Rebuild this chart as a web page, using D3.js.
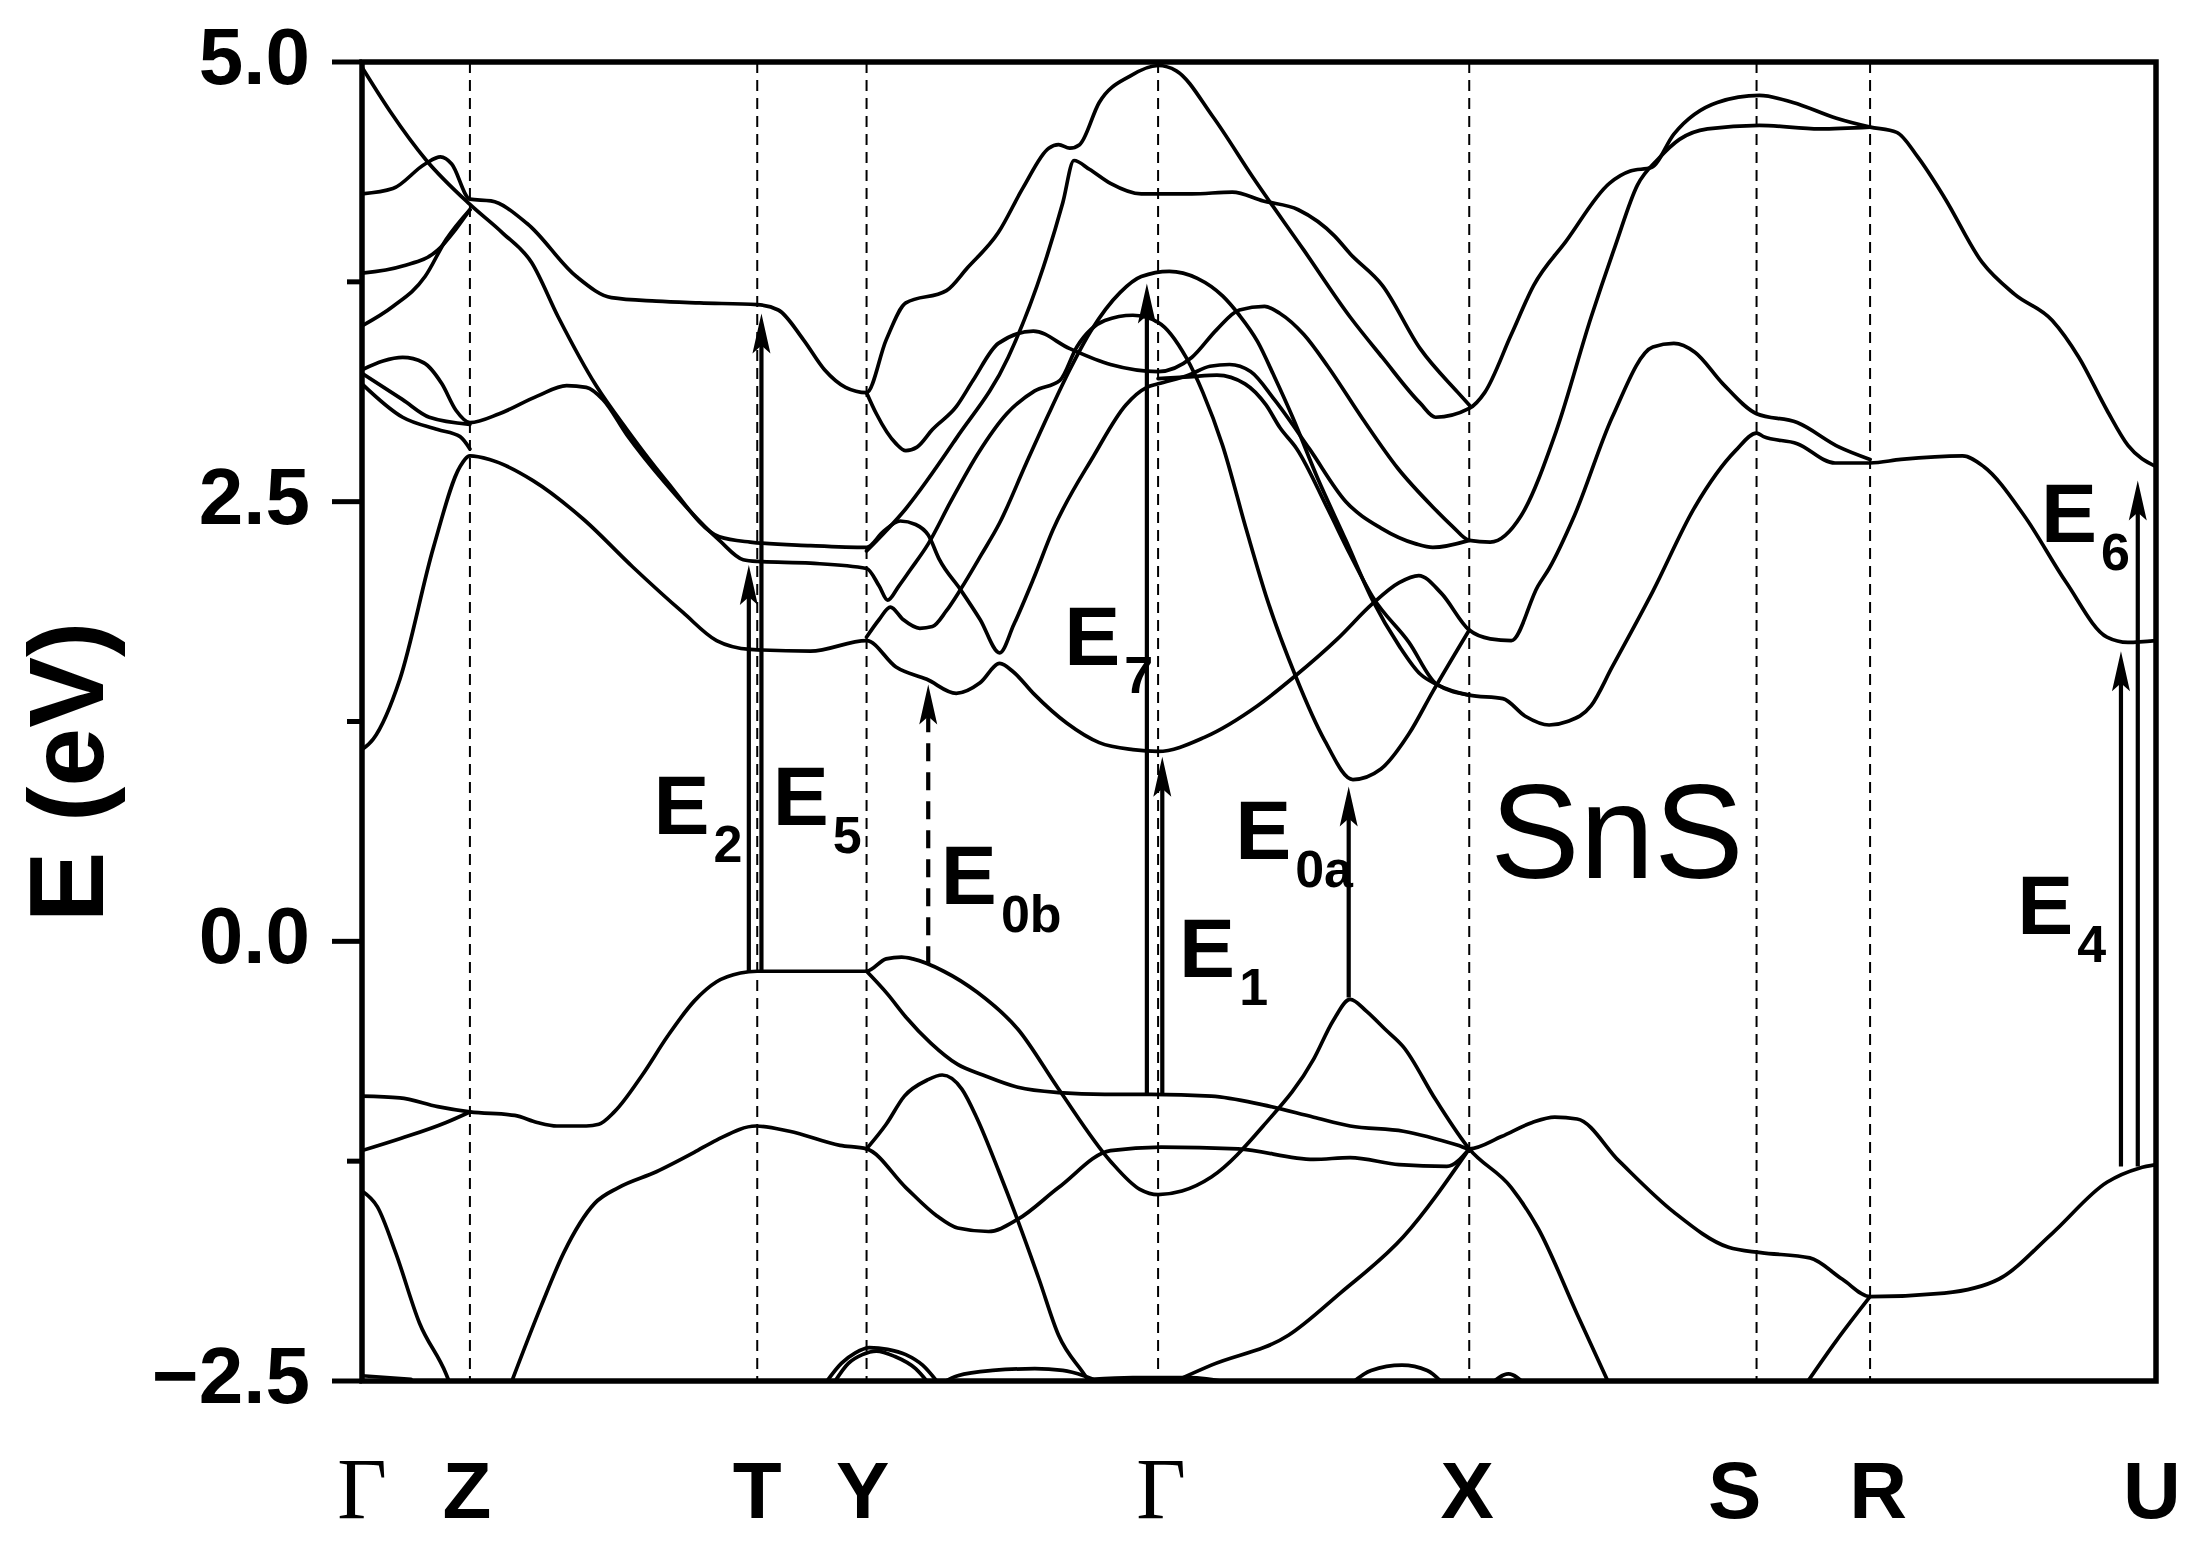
<!DOCTYPE html>
<html><head><meta charset="utf-8">
<script src="https://cdn.jsdelivr.net/npm/d3@7"></script>
<style>html,body{margin:0;padding:0;background:#fff;}svg{display:block;}</style>
</head><body>
<svg id="chart" width="2198" height="1543"></svg>
<script>
// ---------------- data ----------------
const symLabels = ["Γ","Z","T","Y","Γ","X","S","R","U"];
const symK      = [0, 0.77, 2.82, 3.60, 5.68, 7.90, 9.95, 10.76, 12.80];
const yTicks      = [-2.5, 0, 2.5, 5];
const yTickLabels = ["−2.5", "0.0", "2.5", "5.0"];
const yMinorTicks = [-1.25, 1.25, 3.75];

// valence bands [k, E(eV)]
const vb1 = [[0,-0.88],[0.27,-0.89],[0.54,-0.94],[0.77,-0.97],[1.09,-0.99],[1.25,-1.03],[1.39,-1.05],[1.6,-1.05],[1.69,-1.04],[1.8,-0.97],[2.0,-0.76],[2.18,-0.54],[2.37,-0.34],[2.53,-0.23],[2.7,-0.18],[2.82,-0.17],[3.6,-0.17],[3.74,-0.10],[3.85,-0.09],[3.93,-0.10],[4.15,-0.17],[4.39,-0.29],[4.68,-0.50],[4.97,-0.84],[5.34,-1.25],[5.55,-1.41],[5.68,-1.44],[5.85,-1.42],[6.06,-1.34],[6.43,-1.05],[6.79,-0.67],[6.93,-0.45],[7.05,-0.33],[7.17,-0.40],[7.3,-0.50],[7.43,-0.60],[7.66,-0.90],[7.9,-1.18],[8.2,-1.40],[8.39,-1.63],[8.67,-2.12],[8.9,-2.52]];
const vb2a = [[0,-1.19],[0.28,-1.12],[0.6,-1.03],[0.77,-0.97]];
const vb2 = [[3.6,-0.17],[3.75,-0.30],[3.88,-0.43],[4.06,-0.58],[4.25,-0.70],[4.43,-0.76],[4.68,-0.83],[4.97,-0.86],[5.3,-0.87],[5.63,-0.87],[6.06,-0.88],[6.43,-0.93],[6.79,-1.0],[7.05,-1.05],[7.43,-1.08],[7.82,-1.16],[7.9,-1.18],[8.13,-1.11],[8.35,-1.03],[8.51,-1.0],[8.67,-1.01],[8.97,-1.25],[9.36,-1.54],[9.75,-1.74],[9.98,-1.77],[10.33,-1.80],[10.56,-1.92],[10.76,-2.02],[11.29,-2.0],[11.68,-1.92],[12.06,-1.66],[12.45,-1.37],[12.68,-1.29],[12.8,-1.27]];
const vb3 = [[1.06,-2.52],[1.28,-2.07],[1.44,-1.77],[1.66,-1.49],[1.83,-1.40],[2.10,-1.31],[2.37,-1.2],[2.53,-1.13],[2.81,-1.05],[3.05,-1.08],[3.41,-1.16],[3.60,-1.18],[3.88,-1.40],[4.1,-1.56],[4.25,-1.63],[4.47,-1.65],[4.68,-1.58],[4.97,-1.40],[5.34,-1.19],[5.70,-1.17],[6.25,-1.18],[6.79,-1.24],[7.05,-1.23],[7.40,-1.27],[7.74,-1.28],[7.9,-1.18]];
const vb4 = [[5.75,-2.52],[6.06,-2.41],[6.61,-2.24],[6.98,-2.0],[7.43,-1.68],[7.9,-1.18]];
const vb5 = [[3.6,-1.18],[3.74,-1.04],[3.87,-0.88],[4.03,-0.79],[4.14,-0.76],[4.28,-0.84],[4.39,-1.01],[4.54,-1.30],[4.68,-1.59],[4.83,-1.92],[4.97,-2.24],[5.16,-2.47],[5.2,-2.52]];
const vb6 = [[0,-1.42],[0.11,-1.51],[0.24,-1.77],[0.41,-2.17],[0.60,-2.46],[0.63,-2.52]];
const vb7 = [[10.3,-2.52],[10.52,-2.27],[10.76,-2.02]];
const low1 = [[3.3,-2.52],[3.42,-2.40],[3.52,-2.34],[3.62,-2.31],[3.75,-2.32],[3.88,-2.35],[4.0,-2.41],[4.12,-2.52]];
const low2 = [[3.36,-2.52],[3.47,-2.40],[3.57,-2.35],[3.67,-2.33],[3.8,-2.36],[3.95,-2.43],[4.05,-2.52]];
const low3 = [[4.12,-2.52],[4.25,-2.47],[4.5,-2.44],[4.8,-2.43],[5.0,-2.44],[5.15,-2.47],[5.3,-2.52]];
const low4 = [[5.2,-2.49],[5.5,-2.48],[5.9,-2.48],[6.2,-2.51]];
const low5 = [[7.05,-2.52],[7.2,-2.44],[7.42,-2.41],[7.6,-2.44],[7.72,-2.52]];
const low6 = [[8.05,-2.52],[8.18,-2.46],[8.3,-2.52]];
const low7 = [[0,-2.47],[0.35,-2.49]];

// conduction bands
const cb1 = [[0,1.09],[0.08,1.15],[0.27,1.49],[0.51,2.24],[0.7,2.70],[0.77,2.76],[0.91,2.74],[1.22,2.62],[1.58,2.40],[1.93,2.13],[2.29,1.87],[2.53,1.71],[2.77,1.66],[3.2,1.65],[3.6,1.71],[3.81,1.56],[4.03,1.49],[4.24,1.41],[4.41,1.47],[4.55,1.58],[4.65,1.53],[4.79,1.41],[5.03,1.24],[5.26,1.13],[5.50,1.09],[5.68,1.08],[6.01,1.16],[6.39,1.34],[6.66,1.51],[6.96,1.72],[7.21,1.92],[7.4,2.04],[7.54,2.08],[7.7,1.98],[7.9,1.77],[8.05,1.72],[8.2,1.71],[8.39,2.02],[8.47,2.12],[8.65,2.42],[8.92,2.98],[9.21,3.38],[9.36,3.40],[9.51,3.35],[9.71,3.17],[9.95,3.0],[10.24,2.95],[10.54,2.81],[10.76,2.74]];
const cbA = [[0,4.97],[0.2,4.72],[0.46,4.44],[0.77,4.19],[1.0,4.03],[1.21,3.86],[1.40,3.55],[1.67,3.16],[1.89,2.91],[2.17,2.62],[2.55,2.30],[2.77,2.27],[3.2,2.25],[3.6,2.24],[3.72,2.33],[3.84,2.39],[3.95,2.37],[4.04,2.31],[4.12,2.17],[4.27,2.0],[4.41,1.83],[4.55,1.64],[4.65,1.8],[4.79,2.06],[4.93,2.34],[5.22,2.76],[5.45,3.05],[5.6,3.15],[5.68,3.17],[5.9,3.22],[6.05,3.27],[6.19,3.28],[6.34,3.24],[6.51,3.08],[6.76,2.8],[7.02,2.5],[7.27,2.35],[7.52,2.26],[7.64,2.24],[7.9,2.28]];
const cbB = [[0,4.25],[0.22,4.28],[0.45,4.42],[0.56,4.46],[0.64,4.42],[0.77,4.22],[0.92,4.21],[1.18,4.08],[1.53,3.78],[1.78,3.66],[2.1,3.64],[2.41,3.63],[2.82,3.62],[2.97,3.59],[3.15,3.42],[3.30,3.25],[3.45,3.15],[3.6,3.12],[3.74,3.42],[3.88,3.63],[4.17,3.70],[4.32,3.83],[4.54,4.03],[4.72,4.29],[4.90,4.51],[4.97,4.53],[5.05,4.51],[5.12,4.53],[5.26,4.77],[5.48,4.92],[5.68,4.98],[5.81,4.95],[6.07,4.69],[6.36,4.34],[6.72,3.93],[7.05,3.55],[7.28,3.32],[7.55,3.06],[7.66,2.98],[7.9,3.03],[8.01,3.12],[8.20,3.45],[8.36,3.73],[8.59,3.98],[8.90,4.31],[9.05,4.38],[9.2,4.40],[9.36,4.59],[9.67,4.77],[9.97,4.81],[10.21,4.77],[10.52,4.68],[10.76,4.63],[10.95,4.6],[11.10,4.46],[11.29,4.23],[11.56,3.86],[11.79,3.68],[12.06,3.53],[12.25,3.32],[12.45,3.02],[12.60,2.82],[12.8,2.70]];
const cbC = [[0,3.80],[0.29,3.84],[0.54,3.93],[0.67,4.05],[0.77,4.16]];
const cbD = [[0,3.50],[0.22,3.61],[0.45,3.78],[0.6,3.99],[0.77,4.16]];
const cbE = [[0,3.25],[0.15,3.30],[0.29,3.32],[0.44,3.29],[0.57,3.17],[0.67,3.02],[0.77,2.95],[0.98,3.0],[1.25,3.1],[1.46,3.16],[1.6,3.15],[1.72,3.08],[1.89,2.88],[2.17,2.6],[2.55,2.28],[2.72,2.17],[2.82,2.16],[3.2,2.15],[3.6,2.12],[3.69,2.02],[3.75,1.94],[3.83,2.02],[3.91,2.11],[4.04,2.26],[4.2,2.5],[4.4,2.78],[4.6,3.0],[4.8,3.13],[4.98,3.19],[5.1,3.38],[5.3,3.53],[5.5,3.56],[5.68,3.52],[5.88,3.32],[6.0,3.12],[6.14,2.82],[6.31,2.34],[6.46,1.94],[6.66,1.51],[6.87,1.14],[7.07,0.92],[7.27,0.98],[7.47,1.18],[7.64,1.42],[7.9,1.77]];
const cbF = [[0,3.23],[0.29,3.08],[0.48,2.98],[0.77,2.94]];
const cbG = [[0,3.17],[0.29,2.98],[0.54,2.91],[0.70,2.87],[0.77,2.80]];
const cbH = [[3.6,3.12],[3.67,3.0],[3.81,2.83],[3.88,2.79],[3.96,2.81],[4.07,2.91],[4.24,3.04],[4.36,3.19],[4.54,3.40],[4.79,3.47],[5.05,3.37],[5.34,3.28],[5.68,3.24],[5.92,3.32],[6.1,3.48],[6.26,3.59],[6.44,3.61],[6.55,3.57],[6.72,3.45],[6.89,3.27],[7.14,2.97],[7.39,2.69],[7.64,2.47],[7.78,2.36],[7.9,2.28],[8.05,2.27],[8.27,2.42],[8.52,2.9],[8.77,3.55],[8.94,3.95],[9.1,4.3],[9.25,4.45],[9.4,4.56],[9.6,4.62],[9.97,4.64],[10.4,4.62],[10.76,4.63]];
const cbI = [[3.6,2.22],[3.88,2.46],[4.24,2.86],[4.61,3.32],[4.86,3.83],[5.0,4.2],[5.08,4.44],[5.19,4.39],[5.34,4.31],[5.56,4.25],[5.92,4.25],[6.21,4.26],[6.43,4.21],[6.68,4.16],[6.94,4.01],[7.05,3.91],[7.28,3.73],[7.55,3.37],[7.82,3.12],[7.9,3.05]];
const cbP = [[3.6,1.73],[3.69,1.83],[3.77,1.90],[3.86,1.83],[3.98,1.78],[4.07,1.79],[4.17,1.88],[4.27,2.0],[4.42,2.2],[4.55,2.38],[4.74,2.72],[4.9,3.0],[5.05,3.25],[5.2,3.47],[5.41,3.69],[5.56,3.78],[5.76,3.81],[5.96,3.77],[6.14,3.67],[6.26,3.56],[6.39,3.41],[6.51,3.21],[6.64,2.98],[6.82,2.63],[7.02,2.28],[7.21,1.94],[7.4,1.68],[7.55,1.52],[7.67,1.46],[7.9,1.40],[8.14,1.38],[8.3,1.28],[8.47,1.23],[8.6,1.25],[8.77,1.34],[8.92,1.56],[9.21,1.99],[9.51,2.47],[9.80,2.79],[9.95,2.89],[10.0,2.87],[10.24,2.83],[10.51,2.72],[10.76,2.72],[10.98,2.74],[11.42,2.76],[11.57,2.70],[11.86,2.42],[12.16,2.04],[12.45,1.73],[12.6,1.70],[12.8,1.71]];
const cbQ = [[5.68,3.20],[5.9,3.21],[6.1,3.22],[6.3,3.17],[6.45,3.05],[6.55,2.92],[6.67,2.80],[6.89,2.46],[7.05,2.2],[7.21,1.96],[7.47,1.70],[7.67,1.46],[7.9,1.40]];

const bands = [vb1, vb2a, vb2, vb3, vb4, vb5, vb6, vb7, low1, low2, low3, low4, low5, low6, low7,
               cb1, cbA, cbB, cbC, cbD, cbE, cbF, cbG, cbH, cbI, cbP, cbQ];

// optical transitions (k, from E, to E)
const transNames = ["E2","E5","E0b","E7","E1","E0a","E4","E6"];
const transK     = [2.76, 2.85, 4.04, 5.60, 5.71, 7.04, 12.55, 12.67];
const transFrom  = [-0.17, -0.17, -0.13, -0.87, -0.87, -0.32, -1.28, -1.28];
const transTo    = [2.14, 3.57, 1.46, 3.74, 1.05, 0.88, 1.65, 2.62];
const transDash  = [false, false, true, false, false, false, false, false];
const transSub   = ["2","5","0b","7","1","0a","4","6"];
const title = "SnS";
const yAxisTitle = "E (eV)";

// ---------------- layout ----------------
const W = 2198, H = 1543;
const M = {left: 362, right: 2156, top: 62, bottom: 1381};
const labelAnchor = {E2:[2.08,0.61], E5:[2.93,0.66], E0b:[4.13,0.21], E7:[5.01,1.57],
                     E1:[5.83,-0.20], E0a:[6.23,0.47], E6:[11.98,2.27], E4:[11.81,0.04]};
const titleAnchor = [8.05, 0.36];
const symLabelShift = [0, -3, 0, -4, 3, -2, -22, 8, -4];

const svg = d3.select("#chart");
svg.append("rect").attr("width", W).attr("height", H).attr("fill", "#fff");

const x = d3.scaleLinear().domain([0, 12.8]).range([M.left, M.right]);
const y = d3.scaleLinear().domain([-2.5, 5]).range([M.bottom, M.top]);

svg.append("defs").append("clipPath").attr("id", "plotClip")
  .append("rect").attr("x", M.left).attr("y", M.top)
  .attr("width", M.right - M.left).attr("height", M.bottom - M.top);

// dashed high-symmetry lines
svg.append("g").selectAll("line")
  .data(symK.filter((k, i) => i > 0 && i < symK.length - 1))
  .join("line")
  .attr("x1", d => x(d)).attr("x2", d => x(d))
  .attr("y1", M.top).attr("y2", M.bottom)
  .attr("stroke", "#000").attr("stroke-width", 2)
  .attr("stroke-dasharray", "11,7");

// bands
const line = d3.line().x(d => x(d[0])).y(d => y(d[1])).curve(d3.curveMonotoneX);
svg.append("g").attr("clip-path", "url(#plotClip)")
  .selectAll("path").data(bands).join("path")
  .attr("d", line).attr("fill", "none").attr("stroke", "#000")
  .attr("stroke-width", 3.7).attr("stroke-linejoin", "round").attr("stroke-linecap", "round");

// transitions (arrows)
const gA = svg.append("g");
transNames.forEach((n, i) => {
  const xx = x(transK[i]), y0 = y(transFrom[i]), y1 = y(transTo[i]);
  const headL = 40, hw = 9;
  gA.append("line").attr("x1", xx).attr("x2", xx).attr("y1", y0).attr("y2", y1 + headL * 0.7)
    .attr("stroke", "#000").attr("stroke-width", 4.2)
    .attr("stroke-dasharray", transDash[i] ? "18,11" : null);
  gA.append("path")
    .attr("d", `M${xx},${y1} L${xx - hw},${y1 + headL} L${xx},${y1 + headL - 8} L${xx + hw},${y1 + headL} Z`)
    .attr("fill", "#000");
  const a = labelAnchor[n];
  const t = gA.append("text").attr("x", x(a[0])).attr("y", y(a[1]))
    .attr("font-family", "'Liberation Sans', Arial, sans-serif")
    .attr("font-weight", "bold").attr("font-size", 84).attr("fill", "#000");
  t.append("tspan").text("E");
  t.append("tspan").attr("dx", 4).attr("dy", 28).attr("font-size", 52).text(transSub[i]);
});

// frame
svg.append("rect").attr("x", M.left).attr("y", M.top)
  .attr("width", M.right - M.left).attr("height", M.bottom - M.top)
  .attr("fill", "none").attr("stroke", "#000").attr("stroke-width", 5.5);

// y ticks
const gy = svg.append("g");
gy.selectAll("line.maj").data(yTicks).join("line").attr("class", "maj")
  .attr("x1", M.left - 30).attr("x2", M.left).attr("y1", d => y(d)).attr("y2", d => y(d))
  .attr("stroke", "#000").attr("stroke-width", 5);
gy.selectAll("line.min").data(yMinorTicks).join("line").attr("class", "min")
  .attr("x1", M.left - 15).attr("x2", M.left).attr("y1", d => y(d)).attr("y2", d => y(d))
  .attr("stroke", "#000").attr("stroke-width", 5);
gy.selectAll("text").data(yTicks).join("text")
  .attr("x", 310).attr("y", d => y(d) + 22)
  .attr("text-anchor", "end")
  .attr("font-family", "'Liberation Sans', Arial, sans-serif")
  .attr("font-weight", "bold").attr("font-size", 80)
  .text((d, i) => yTickLabels[i]);

// x labels
svg.append("g").selectAll("text").data(symLabels).join("text")
  .attr("x", (d, i) => x(symK[i]) + symLabelShift[i])
  .attr("y", 1518)
  .attr("text-anchor", "middle")
  .attr("font-family", d => d === "Γ" ? "'Liberation Serif', 'Times New Roman', serif" : "'Liberation Sans', Arial, sans-serif")
  .attr("font-weight", d => d === "Γ" ? "normal" : "bold")
  .attr("font-size", d => d === "Γ" ? 86 : 80)
  .text(d => d);

// y axis title
svg.append("text")
  .attr("transform", "translate(103,772) rotate(-90)")
  .attr("text-anchor", "middle")
  .attr("font-family", "'Liberation Sans', Arial, sans-serif")
  .attr("font-weight", "bold").attr("font-size", 106)
  .text(yAxisTitle);

// material label
svg.append("text").attr("x", x(titleAnchor[0])).attr("y", y(titleAnchor[1]))
  .attr("font-family", "'Liberation Sans', Arial, sans-serif")
  .attr("font-size", 134).text(title);
</script>
</body></html>
